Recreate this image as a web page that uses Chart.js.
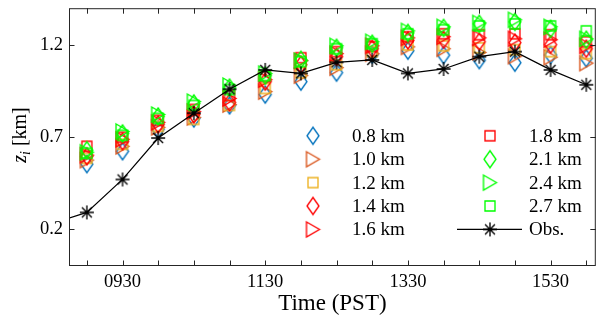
<!DOCTYPE html>
<html><head><meta charset="utf-8">
<script src="https://cdn.jsdelivr.net/npm/chart.js@4/dist/chart.umd.min.js"></script>
<style>html,body{margin:0;padding:0;background:#fff;overflow:hidden}#wrap{width:604px;height:321px;position:relative}</style>
</head><body><div id="wrap"><canvas id="c" width="604" height="321"></canvas></div>
<script>
// ---------- data ----------
const modelTimes = ['0900','0930','1000','1030','1100','1130','1200','1230','1300','1330','1400','1430','1500','1530','1600'];
const obsTimes   = ['0830','0900','0930','1000','1030','1100','1130','1200','1230','1300','1330','1400','1430','1500','1530','1600'];
const tickTimes  = ['0900','0930','1000','1030','1100','1130','1200','1230','1300','1330','1400','1430','1500','1530','1600'];
const labelTimes = ['0930','1130','1330','1530'];
const yTickValues = [0.2, 0.7, 1.2];
const seriesNames = ['0.8 km','1.0 km','1.2 km','1.4 km','1.6 km','1.8 km','2.1 km','2.4 km','2.7 km'];

const z08 = [0.553,0.623,0.742,0.801,0.872,0.931,1.001,1.050,1.148,1.169,1.145,1.118,1.104,1.146,1.128];
const z10 = [0.575,0.650,0.753,0.807,0.877,0.947,1.034,1.077,1.153,1.190,1.180,1.160,1.140,1.134,1.102];
const z12 = [0.585,0.661,0.758,0.796,0.872,0.964,1.050,1.093,1.164,1.200,1.196,1.185,1.175,1.164,1.153];
const z14 = [0.596,0.677,0.769,0.823,0.888,1.001,1.093,1.137,1.180,1.225,1.229,1.218,1.213,1.202,1.180];
const z16 = [0.602,0.688,0.780,0.839,0.910,1.012,1.115,1.153,1.196,1.239,1.245,1.239,1.234,1.229,1.196];
const z18 = [0.650,0.699,0.791,0.850,0.926,1.029,1.131,1.164,1.191,1.245,1.261,1.256,1.261,1.256,1.218];
const z21 = [0.629,0.720,0.812,0.883,0.969,1.034,1.120,1.185,1.207,1.266,1.293,1.315,1.326,1.288,1.229];
const z24 = [0.618,0.731,0.823,0.893,0.980,1.045,1.115,1.196,1.218,1.277,1.299,1.320,1.337,1.299,1.234];
const z27 = [0.612,0.710,0.802,0.872,0.958,1.034,1.110,1.180,1.207,1.261,1.283,1.304,1.315,1.304,1.277];
const obs = [0.228,0.291,0.470,0.695,0.830,0.960,1.065,1.046,1.106,1.119,1.046,1.070,1.137,1.164,1.065,0.984];

// ---------- helpers ----------
const toMin = s => parseInt(s.slice(0,2),10)*60 + parseInt(s.slice(2),10);
const fmtTime = m => String(Math.floor(m/60)).padStart(2,'0') + String(m%60).padStart(2,'0');

const BLUE='#0072BD', ORANGE='#D95319', GOLD='#EDB120', RED='#FF0000', GREEN='#00FF00';
function marker(type, color){
  const dims = {diamond:[12,17], tri:[13,15], square:[10,10], star:[14,14]}[type];
  const w = dims[0], h = dims[1];
  const c = document.createElement('canvas');
  c.width = w+4; c.height = h+4;
  const g = c.getContext('2d');
  g.strokeStyle = color; g.lineWidth = 1.35; g.lineJoin='miter';
  const cx = c.width/2, cy = c.height/2;
  g.beginPath();
  if(type==='diamond'){ g.moveTo(cx,cy-h/2); g.lineTo(cx+w/2,cy); g.lineTo(cx,cy+h/2); g.lineTo(cx-w/2,cy); g.closePath(); }
  else if(type==='tri'){ g.moveTo(cx-w/2,cy-h/2); g.lineTo(cx+w/2,cy); g.lineTo(cx-w/2,cy+h/2); g.closePath(); }
  else if(type==='square'){ g.rect(cx-w/2,cy-h/2,w,h); }
  else { const r=w/2, d=r*0.7071;
    g.moveTo(cx-r,cy); g.lineTo(cx+r,cy); g.moveTo(cx,cy-r); g.lineTo(cx,cy+r);
    g.moveTo(cx-d,cy-d); g.lineTo(cx+d,cy+d); g.moveTo(cx-d,cy+d); g.lineTo(cx+d,cy-d); }
  g.stroke();
  return c;
}

const seriesData = [z08,z10,z12,z14,z16,z18,z21,z24,z27];
const seriesStyle = [
  ['diamond',BLUE],['tri',ORANGE],['square',GOLD],
  ['diamond',RED],['tri',RED],['square',RED],
  ['diamond',GREEN],['tri',GREEN],['square',GREEN]
];
const markers = seriesStyle.map(s => marker(s[0], s[1]));
const starMarker = marker('star', '#000');

const datasets = seriesData.map((arr,i) => ({
  label: seriesNames[i],
  data: modelTimes.map((t,j) => ({x: toMin(t), y: arr[j]})),
  showLine: false,
  pointStyle: markers[i],
  pointRadius: 7,
  order: 9 - i,
  clip: 0
}));
datasets.push({
  label: 'Obs.',
  data: obsTimes.map((t,j) => ({x: toMin(t), y: obs[j]})),
  showLine: true,
  borderColor: '#000',
  borderWidth: 1.2,
  pointStyle: starMarker,
  pointRadius: 7,
  order: -1,
  clip: 0
});

const AX = '#262626';
const FONT = "'Liberation Serif', 'Times New Roman', serif";

const framePlugin = {
  id: 'frame',
  afterDraw(chart){
    const {ctx, chartArea:a, scales} = chart;
    ctx.save();
    ctx.strokeStyle = AX; ctx.lineWidth = 1;
    ctx.strokeRect(a.left+0.5, a.top+0.5, a.right-a.left-1, a.bottom-a.top-1);
    ctx.beginPath();
    tickTimes.forEach(t => {
      const x = Math.round(scales.x.getPixelForValue(toMin(t)))+0.5;
      ctx.moveTo(x, a.bottom); ctx.lineTo(x, a.bottom-5.5);
      ctx.moveTo(x, a.top); ctx.lineTo(x, a.top+5.5);
    });
    yTickValues.forEach(v => {
      const y = Math.round(scales.y.getPixelForValue(v))+0.5;
      ctx.moveTo(a.left, y); ctx.lineTo(a.left+5.5, y);
      ctx.moveTo(a.right, y); ctx.lineTo(a.right-5.5, y);
    });
    ctx.stroke();

    // y-axis title: z_i [km]
    ctx.translate(26, 135);
    ctx.rotate(-Math.PI/2);
    ctx.fillStyle = '#000';
    ctx.textBaseline = 'alphabetic';
    ctx.font = "italic 20px " + FONT; const wz = ctx.measureText('z').width;
    ctx.font = "italic 14px " + FONT; const wi = ctx.measureText('i').width;
    ctx.font = "20px " + FONT; const wk = ctx.measureText(' [km]').width;
    let x0 = -(wz+wi+wk)/2;
    ctx.font = "italic 20px " + FONT; ctx.fillText('z', x0, 0); x0 += wz;
    ctx.font = "italic 14px " + FONT; ctx.fillText('i', x0, 3.5); x0 += wi;
    ctx.font = "20px " + FONT; ctx.fillText(' [km]', x0, 0);
    ctx.restore();

    // legend
    ctx.save();
    ctx.font = "19px " + FONT;
    ctx.fillStyle = '#000';
    ctx.textBaseline = 'middle';
    const rows = [135.8, 159.2, 182.6, 206, 229.4];
    for(let i=0;i<5;i++){
      const m = markers[i];
      ctx.drawImage(m, 313 - m.width/2, rows[i] - m.height/2);
      ctx.fillText(seriesNames[i], 352, rows[i]+1);
    }
    for(let i=5;i<9;i++){
      const m = markers[i];
      ctx.drawImage(m, 490 - m.width/2, rows[i-5] - m.height/2);
      ctx.fillText(seriesNames[i], 529, rows[i-5]+1);
    }
    ctx.strokeStyle = '#000'; ctx.lineWidth = 1.2;
    ctx.beginPath(); ctx.moveTo(457, rows[4]); ctx.lineTo(522, rows[4]); ctx.stroke();
    ctx.drawImage(starMarker, 490 - starMarker.width/2, rows[4] - starMarker.height/2);
    ctx.fillText('Obs.', 529, rows[4]+1);
    ctx.restore();
  }
};

new Chart(document.getElementById('c'), {
  type: 'scatter',
  data: { datasets },
  options: {
    responsive: false,
    animation: false,
    devicePixelRatio: 1,
    layout: { padding: {top: 7, right: 1, left: 0, bottom: 0} },
    plugins: { legend: {display: false}, tooltip: {enabled: false} },
    scales: {
      x: {
        type: 'linear', min: 525, max: 968,
        grid: {display: false, drawTicks: false},
        border: {display: false},
        afterBuildTicks: s => { s.ticks = labelTimes.map(t => ({value: toMin(t)})); },
        afterFit: s => { s.height = 55; s.paddingLeft = 0; s.paddingRight = 0; },
        ticks: { autoSkip: false, maxRotation: 0, padding: 5, color: '#000',
                 font: {family: FONT, size: 18.5},
                 callback: v => fmtTime(v) },
        title: { display: true, text: 'Time (PST)', color: '#000',
                 font: {family: FONT, size: 23}, padding: {top: 0, bottom: 3} }
      },
      y: {
        type: 'linear', min: 0, max: 1.4,
        grid: {display: false, drawTicks: false},
        border: {display: false},
        afterBuildTicks: s => { s.ticks = yTickValues.map(v => ({value: v})); },
        afterFit: s => { s.width = 69; s.paddingTop = 0; s.paddingBottom = 0; },
        ticks: { padding: 6, color: '#000', font: {family: FONT, size: 18.5},
                 callback: v => v.toFixed(1) },
        title: { display: false }
      }
    }
  },
  plugins: [framePlugin]
});
</script></body></html>
